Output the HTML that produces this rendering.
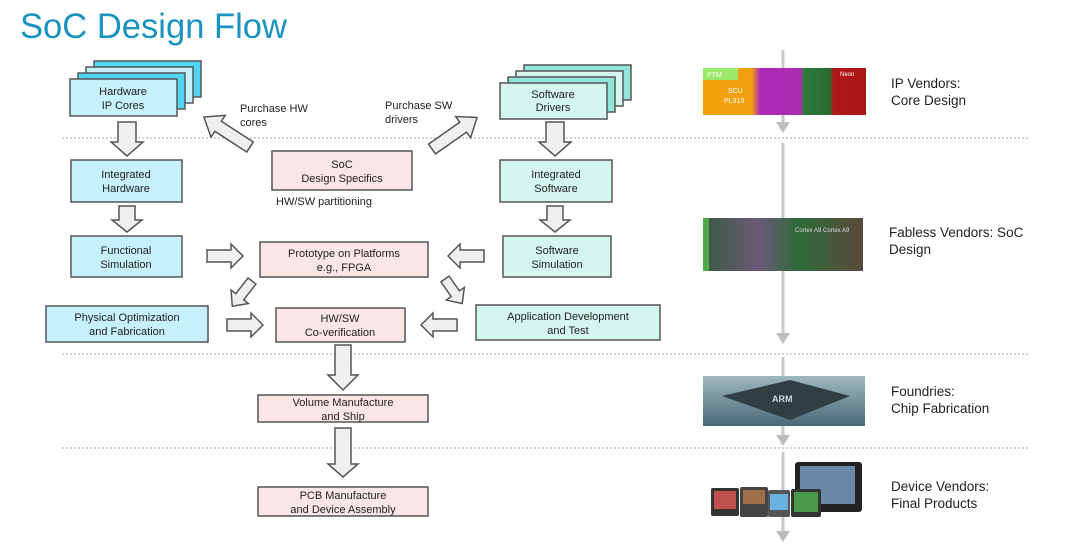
<!DOCTYPE html>
<html><head><meta charset="utf-8"><style>
html,body{margin:0;padding:0;background:#fff;}
svg{display:block;}
text{font-family:"Liberation Sans",Arial,sans-serif;}
</style></head><body>
<svg width="1080" height="549" viewBox="0 0 1080 549" xmlns="http://www.w3.org/2000/svg">
<defs>
<linearGradient id="ipg" x1="0" x2="1"><stop offset="0" stop-color="#f5a20a"/><stop offset="0.3" stop-color="#f0a010"/><stop offset="0.35" stop-color="#b02ab8"/><stop offset="0.6" stop-color="#a82cb0"/><stop offset="0.62" stop-color="#2a7a3a"/><stop offset="0.78" stop-color="#2a6a30"/><stop offset="0.8" stop-color="#b01818"/><stop offset="1" stop-color="#a81414"/></linearGradient>
<linearGradient id="fbg" x1="0" x2="1"><stop offset="0" stop-color="#3a5a40"/><stop offset="0.35" stop-color="#6a5a78"/><stop offset="0.6" stop-color="#2f6a3a"/><stop offset="1" stop-color="#5a4a3a"/></linearGradient>
<linearGradient id="fdg" x1="0" x2="0" y1="0" y2="1"><stop offset="0" stop-color="#9fb8c0"/><stop offset="1" stop-color="#4a6a78"/></linearGradient>
</defs>
<text x="20" y="38" font-size="35" fill="#1a93c0" textLength="267" lengthAdjust="spacingAndGlyphs" style="font-family:'Liberation Sans',sans-serif">SoC Design Flow</text>

<!-- dividers -->
<g stroke="#c4c4c4" stroke-width="1.5" stroke-dasharray="2,2">
<line x1="62" y1="138" x2="1030" y2="138"/>
<line x1="62" y1="354" x2="1030" y2="354"/>
<line x1="62" y1="448" x2="1030" y2="448"/>
</g>

<!-- right vertical line -->
<g stroke="#c8c8c8" stroke-width="3">
<line x1="783" y1="50" x2="783" y2="122"/>
<line x1="783" y1="143" x2="783" y2="340"/>
<line x1="783" y1="357" x2="783" y2="440"/>
<line x1="783" y1="452" x2="783" y2="535"/>
</g>
<g fill="#bdbdbd">
<polygon points="776,122 790,122 783,133"/>
<polygon points="776,333 790,333 783,344"/>
<polygon points="776,435 790,435 783,446"/>
<polygon points="776,531 790,531 783,542"/>
</g>

<!-- images -->
<rect x="703" y="68" width="163" height="47" fill="url(#ipg)"/>
<rect x="703" y="68" width="35" height="12" fill="#9be86a"/>
<text x="707" y="77" font-size="7" fill="#fff">PTM</text>
<text x="728" y="93" font-size="7" fill="#fff">SCU</text>
<text x="724" y="103" font-size="7" fill="#fff">PL310</text>
<text x="840" y="76" font-size="6" fill="#fff">Neon</text>
<rect x="703" y="218" width="160" height="53" fill="url(#fbg)"/>
<rect x="703" y="218" width="6" height="53" fill="#4fa84a"/>
<text x="795" y="232" font-size="6" fill="#ddd">Cortex A9  Cortex A9</text>
<rect x="703" y="376" width="162" height="50" fill="url(#fdg)"/>
<polygon points="722,396 790,380 850,396 790,420" fill="#2f3f44"/>
<text x="772" y="402" font-size="9" fill="#cfd8da" font-weight="bold">ARM</text>
<rect x="795" y="462" width="67" height="50" rx="3" fill="#222"/>
<rect x="800" y="466" width="55" height="38" fill="#6a88a8"/>
<rect x="711" y="488" width="28" height="28" rx="2" fill="#333"/><rect x="714" y="491" width="22" height="18" fill="#c05050"/>
<rect x="740" y="487" width="28" height="30" rx="2" fill="#444"/><rect x="743" y="490" width="22" height="14" fill="#a0704a"/>
<rect x="768" y="490" width="22" height="27" rx="2" fill="#555"/><rect x="770" y="494" width="18" height="16" fill="#6ab0e0"/>
<rect x="791" y="489" width="30" height="28" rx="2" fill="#333"/><rect x="794" y="492" width="24" height="20" fill="#4a9a4a"/>

<g font-size="13.5" fill="#222">
<text x="891" y="88">IP Vendors:</text><text x="891" y="105">Core Design</text>
<text x="889" y="237">Fabless Vendors: SoC</text><text x="889" y="254">Design</text>
<text x="891" y="396">Foundries:</text><text x="891" y="413">Chip Fabrication</text>
<text x="891" y="491">Device Vendors:</text><text x="891" y="508">Final Products</text>
</g>

<!-- stacks -->
<g stroke="#555" stroke-width="1.5">
<rect x="94" y="61" width="107" height="36" fill="#4fd6f5"/>
<rect x="86" y="67" width="107" height="36" fill="#c6f0fb"/>
<rect x="78" y="73" width="107" height="36" fill="#4fd6f5"/>
<rect x="70" y="79" width="107" height="37" fill="#c6f0fb"/>
<rect x="524" y="65" width="107" height="35" fill="#8fe6d6"/>
<rect x="516" y="71" width="107" height="35" fill="#d4f6ee"/>
<rect x="508" y="77" width="107" height="35" fill="#8fe6d6"/>
<rect x="500" y="83" width="107" height="36" fill="#d4f6ee"/>
<!-- blue boxes -->
<rect x="71" y="160" width="111" height="42" fill="#c6f0fb"/>
<rect x="71" y="236" width="111" height="41" fill="#c6f0fb"/>
<rect x="46" y="306" width="162" height="36" fill="#c6f0fb"/>
<!-- mint -->
<rect x="500" y="160" width="112" height="42" fill="#d4f6ee"/>
<rect x="503" y="236" width="108" height="41" fill="#d4f6ee"/>
<rect x="476" y="305" width="184" height="35" fill="#d4f6ee"/>
<!-- pink -->
<rect x="272" y="151" width="140" height="39" fill="#fae6e6"/>
<rect x="260" y="242" width="168" height="35" fill="#fae6e6"/>
<rect x="276" y="308" width="129" height="34" fill="#fae6e6"/>
<rect x="258" y="395" width="170" height="27" fill="#fae6e6"/>
<rect x="258" y="487" width="170" height="29" fill="#fae6e6"/>
</g>

<g font-size="11" fill="#222" text-anchor="middle">
<text x="123" y="95">Hardware</text><text x="123" y="109">IP Cores</text>
<text x="553" y="98">Software</text><text x="553" y="111">Drivers</text>
<text x="126" y="178">Integrated</text><text x="126" y="192">Hardware</text>
<text x="126" y="254">Functional</text><text x="126" y="268">Simulation</text>
<text x="127" y="321">Physical Optimization</text><text x="127" y="335">and Fabrication</text>
<text x="556" y="178">Integrated</text><text x="556" y="192">Software</text>
<text x="557" y="254">Software</text><text x="557" y="268">Simulation</text>
<text x="568" y="320">Application Development</text><text x="568" y="334">and Test</text>
<text x="342" y="168">SoC</text><text x="342" y="182">Design Specifics</text>
<text x="344" y="257">Prototype on Platforms</text><text x="344" y="271">e.g., FPGA</text>
<text x="340" y="322">HW/SW</text><text x="340" y="336">Co-verification</text>
<text x="343" y="406">Volume Manufacture</text><text x="343" y="420">and Ship</text>
<text x="343" y="499">PCB Manufacture</text><text x="343" y="513">and Device Assembly</text>
</g>
<g font-size="11" fill="#222">
<text x="276" y="205">HW/SW partitioning</text>
<text x="240" y="112">Purchase HW</text><text x="240" y="126">cores</text>
<text x="385" y="109">Purchase SW</text><text x="385" y="123">drivers</text>
</g>

<!-- block arrows: right-pointing base shape, length L -->
<g fill="#efefef" stroke="#555" stroke-width="1.5" stroke-linejoin="miter">
<!-- down arrows (rotate 90) -->
<g transform="translate(127,122) rotate(90)"><polygon points="0,-9 20,-9 20,-16 34,0 20,16 20,9 0,9"/></g>
<g transform="translate(127,206) rotate(90)"><polygon points="0,-8 14,-8 14,-15 26,0 14,15 14,8 0,8"/></g>
<g transform="translate(555,122) rotate(90)"><polygon points="0,-9 20,-9 20,-16 34,0 20,16 20,9 0,9"/></g>
<g transform="translate(555,206) rotate(90)"><polygon points="0,-8 14,-8 14,-15 26,0 14,15 14,8 0,8"/></g>
<g transform="translate(343,345) rotate(90)"><polygon points="0,-8 30,-8 30,-15 45,0 30,15 30,8 0,8"/></g>
<g transform="translate(343,428) rotate(90)"><polygon points="0,-8 36,-8 36,-15 49,0 36,15 36,8 0,8"/></g>
<!-- right arrows -->
<g transform="translate(207,256)"><polygon points="0,-6 24,-6 24,-12 36,0 24,12 24,6 0,6"/></g>
<g transform="translate(227,325)"><polygon points="0,-6 24,-6 24,-12 36,0 24,12 24,6 0,6"/></g>
<!-- left arrows -->
<g transform="translate(484,256) rotate(180)"><polygon points="0,-6 24,-6 24,-12 36,0 24,12 24,6 0,6"/></g>
<g transform="translate(457,325) rotate(180)"><polygon points="0,-6 24,-6 24,-12 36,0 24,12 24,6 0,6"/></g>
<!-- diagonals -->
<g transform="translate(252,281) rotate(128)"><polygon points="0,-5 20,-5 20,-11 32,0 20,11 20,5 0,5"/></g>
<g transform="translate(445,279) rotate(55)"><polygon points="0,-5 18,-5 18,-11 30,0 18,11 18,5 0,5"/></g>
<g transform="translate(250,147) rotate(-147)"><polygon points="0,-6 38,-6 38,-13 55,0 38,13 38,6 0,6"/></g>
<g transform="translate(432,149) rotate(-35)"><polygon points="0,-6 38,-6 38,-13 55,0 38,13 38,6 0,6"/></g>
</g>
</svg>
</body></html>
